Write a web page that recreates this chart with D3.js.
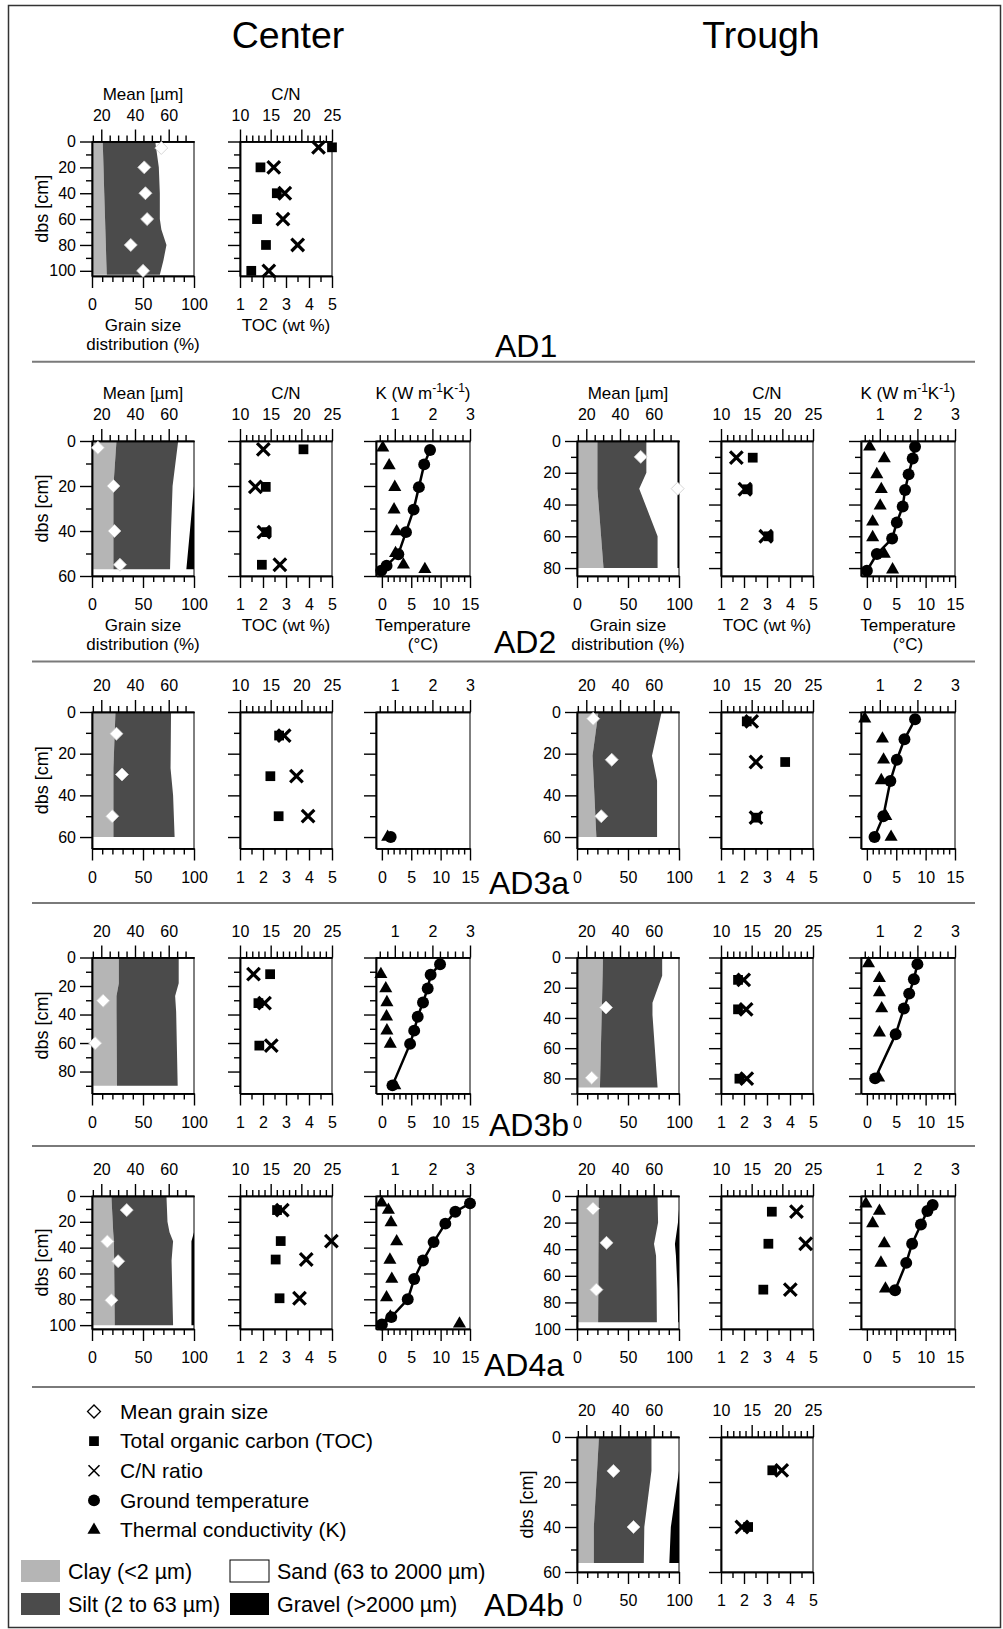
<!DOCTYPE html>
<html>
<head>
<meta charset="utf-8">
<script src="https://cdn.jsdelivr.net/npm/d3@7"></script>
<style>
  body { margin: 0; background: #fff; }
  svg text { font-family: "Liberation Sans", Arial, Helvetica, sans-serif; }
</style>
</head>
<body>
<svg id="fig" width="1003" height="1629"></svg>
<script>
// ---------- categories ----------
const profiles = ["AD1", "AD2", "AD3a", "AD3b", "AD4a", "AD4b"];
const settings = ["Center", "Trough"];

// ---------- tick values ----------
const grainMajor = [0, 50, 100], grainMinor = [10, 20, 30, 40, 60, 70, 80, 90];
const meanMajor = [20, 40, 60], meanMinor = [15, 25, 30, 35, 45, 50, 55, 65, 70];
const cnMajor = [10, 15, 20, 25], cnMinor = [11, 12, 13, 14, 16, 17, 18, 19, 21, 22, 23, 24];
const tocMajor = [1, 2, 3, 4, 5], tocMinor = [1.5, 2.5, 3.5, 4.5];
const kMajor = [1, 2, 3], kMinor = [0.6, 0.8, 1.2, 1.4, 1.6, 1.8, 2.2, 2.4, 2.6, 2.8];
const tempMajor = [0, 5, 10, 15], tempMinor = [1, 2, 3, 4, 6, 7, 8, 9, 11, 12, 13, 14];

// axis domains
const grainDomain = [0, 100];      // grain size distribution (%)
const meanDomain = [14.5, 75];     // mean grain size (µm)
const cnDomain = [10, 25];         // C/N
const tocDomain = [1, 5];          // TOC (wt %)
const kDomain = [0.5, 3];          // K (W m-1 K-1)
const tempDomain = [-1, 15];       // temperature (°C)

// ---------- grain size profiles: depth (cm), clay %, silt %, sand %, gravel % ----------
const ad1cGrain = [[0,10.5,51.5,38,0],[20,11.3,54.2,34.5,0],[40,12,54.5,33.5,0],[60,12.8,53.7,33.5,0],[68,13.1,54.9,32,0],[80,13.6,59.4,27,0],[92,14,56,30,0],[103,14.5,52,33.5,0]];
const ad2cGrain = [[0,24,60.5,15.5,0],[20,21,58,21,0],[40,21,56.5,18.5,4],[57,21,55.5,16,7.5]];
const ad2tGrain = [[0,20,48,30.5,1.5],[20,20,48,30.5,1.5],[30,20,41,37.5,1.5],[60,23.6,55.4,19.5,1.5],[80,26,53,19.5,1.5]];
const ad3acGrain = [[0,23,54.5,22.5,0],[27,21,56,23,0],[40,21,58.5,20.5,0],[60,21,60,19,0]];
const ad3atGrain = [[0,21,62,17,0],[21,15.2,58.3,26.5,0],[33,16.4,62.1,21.5,0],[60,19,59.5,21.5,0]];
const ad3bcGrain = [[0,26.3,58.7,15,0],[18,26.3,58.7,15,0],[27,24,57.5,18.5,0],[38,24,58.5,17.5,0],[90,24.5,59.5,16,0]];
const ad3btGrain = [[0,25.5,58,16.5,0],[12,25.1,58.4,16.5,0],[30,24.5,49.5,26,0],[38,24.2,49.8,26,0],[86,22.5,56.5,21,0]];
const ad4acGrain = [[0,19,54,27,0],[20,20.3,53.7,26,0],[28,20.8,55.2,24,0],[35,21.5,58,18,2.5],[50,21.7,56.3,19.5,2.5],[100,22.3,57.2,18,2.5]];
const ad4atGrain = [[0,21.3,57.7,21,0],[10,21.2,58,20.8,0],[20,21.2,58.3,19.5,1],[36,21.1,54.4,20.5,4],[45,21,56.5,19.5,3],[70,20.9,57.1,20.5,1.5],[95,20.7,57.6,20.9,0.8]];
const ad4btGrain = [[0,21.5,51.5,27,0],[15,19.7,53.3,27,0],[40,16.5,49.5,26,8],[56,16.5,49,25,9.5]];

// ---------- mean grain size: depth (cm), µm ----------
const ad1cMean = [[5,55.6],[20,45.5],[40,46.2],[60,47.2],[80,37.5],[100,44.8]];
const ad2cMean = [[3,18],[20,27.2],[40,27.8],[55,31.1]];
const ad2tMean = [[10,52.3],[30,74.2]];
const ad3acMean = [[10.4,29],[30,32.3],[50,26.5]];
const ad3atMean = [[3.2,24.1],[22.9,35.1],[50,28.9]];
const ad3bcMean = [[30.3,21.1],[60.1,16.4]];
const ad3btMean = [[33.1,31.7],[79.6,23.2]];
const ad4acMean = [[10.9,35.1],[35.2,23.6],[50.5,30],[80.7,26]];
const ad4atMean = [[9.5,24],[35.2,32],[70.4,26]];
const ad4btMean = [[15.1,36.1],[40,48]];

// ---------- total organic carbon: depth (cm), wt % ----------
const ad1cToc = [[4.5,5.0],[20,1.89],[40,2.6],[60,1.74],[80,2.13],[100,1.49]];
const ad2cToc = [[3.7,3.76],[20.4,2.12],[40.5,2.16],[55,1.95]];
const ad2tToc = [[10.5,2.38],[30.4,2.16],[60,3.07]];
const ad3acToc = [[11.3,2.7],[30.8,2.32],[50,2.68]];
const ad3atToc = [[4.5,2.12],[24,3.79],[50.7,2.53]];
const ad3bcToc = [[11.7,2.31],[32,1.8],[61.8,1.84]];
const ad3btToc = [[14.8,1.74],[34.3,1.74],[80.2,1.8]];
const ad4acToc = [[10.9,2.61],[34.9,2.77],[49.2,2.55],[79.2,2.72]];
const ad4atToc = [[11.8,3.21],[35.9,3.06],[70.4,2.84]];
const ad4btToc = [[14.8,3.23],[40,2.18]];

// ---------- C/N ratio: depth (cm), C/N ----------
const ad1cCn = [[4.5,22.8],[20,15.5],[40,17.3],[60,17.0],[80,19.4],[100,14.7]];
const ad2cCn = [[3.7,13.8],[20.4,12.5],[40.5,13.9],[55,16.5]];
const ad2tCn = [[10.5,12.5],[30.4,13.9],[60,17.3]];
const ad3acCn = [[11.3,17.2],[30.8,19.2],[50,21.1]];
const ad3atCn = [[4.5,15.0],[24,15.7],[50.7,15.7]];
const ad3bcCn = [[11.7,12.2],[32,14.0],[61.8,15.1]];
const ad3btCn = [[14.8,13.7],[34.3,14.1],[80.2,14.2]];
const ad4acCn = [[10.9,16.9],[34.9,24.9],[49.2,20.8],[79.2,19.7]];
const ad4atCn = [[11.8,22.3],[35.9,23.8],[70.4,21.3]];
const ad4btCn = [[14.8,19.9],[40,13.4]];

// ---------- ground temperature: depth (cm), °C ----------
const ad2cTemp = [[4,8.2],[10.4,7.2],[20.5,6.3],[30.5,5.4],[40.5,4.1],[50.3,2.8],[55.4,0.8],[57.6,-0.1]];
const ad2tTemp = [[3.6,8.2],[11,7.8],[21,7.1],[30.8,6.5],[41.3,6.1],[51.3,5.1],[61.4,4.3],[71.2,1.7],[81.7,0.0]];
const ad3acTemp = [[60,1.5]];
const ad3atTemp = [[3.5,8.2],[13.1,6.4],[22.9,5.1],[33.1,4.0],[50,2.8],[60,1.3]];
const ad3bcTemp = [[4.7,9.9],[12.1,8.3],[21.7,7.8],[31.5,7.0],[41.5,6.1],[51.3,5.5],[60.6,4.8],[89.7,1.8]];
const ad3btTemp = [[4.4,8.6],[14.4,8.0],[23.9,7.2],[33.8,6.3],[50.8,4.9],[80,1.4]];
const ad4acTemp = [[5.7,15.0],[12.2,12.5],[21.4,10.8],[35.7,8.8],[50,7.0],[64.3,5.5],[80,4.4],[93.8,1.6],[99.5,0.0]];
const ad4atTemp = [[6.8,11.2],[11.3,10.3],[21.4,9.2],[35.9,7.7],[50.3,6.7],[70.9,4.8]];

// ---------- thermal conductivity: depth (cm), K ----------
const ad2cK = [[3,0.68],[10.9,0.85],[20.5,1.0],[30.5,0.98],[40.2,1.05],[49.9,1.02],[55,1.23],[57,1.8]];
const ad2tK = [[3.6,0.73],[11,1.12],[21,0.92],[30.4,1.04],[40.8,1.01],[50.9,0.81],[60.7,0.81],[71.2,1.12],[81,1.34]];
const ad3acK = [[60,0.81]];
const ad3atK = [[3.2,0.6],[12.8,1.07],[22.9,1.1],[32.8,1.04],[50,1.16],[60,1.3]];
const ad3bcK = [[11.7,0.63],[21.7,0.76],[31.5,0.79],[41.5,0.78],[51.3,0.79],[60.6,0.88],[89.7,1.0]];
const ad3btK = [[4,0.7],[13.7,0.99],[23.2,0.99],[33.8,1.05],[49.7,0.99],[79.6,0.97]];
const ad4acK = [[5.2,0.65],[10.9,0.83],[20.6,0.9],[35.2,1.05],[49.5,0.87],[64.3,0.92],[78.6,0.78],[93.5,0.88],[99,2.72]];
const ad4atK = [[5.8,0.63],[11.3,0.99],[20.6,0.81],[35.7,1.12],[50.3,1.03],[69.8,1.15]];

// ---------- legend ----------
const markerLabels = ["Mean grain size", "Total organic carbon (TOC)", "C/N ratio", "Ground temperature", "Thermal conductivity (K)"];
const fractionLabels = ["Clay (<2 µm)", "Sand (63 to 2000 µm)", "Silt (2 to 63 µm)", "Gravel (>2000 µm)"];
const fractionKeys = ["clay", "sand", "silt", "gravel"];
const fractionColor = { clay: "#b5b5b5", silt: "#4b4b4b", sand: "#ffffff", gravel: "#000000" };

// ---------- panels (profile, setting, depth axis maximum, series) ----------
const panels = [
  { profile: "AD1",  setting: "Center", yMax: 104, grain: ad1cGrain,  mean: ad1cMean,  toc: ad1cToc,  cn: ad1cCn,  temp: null,      k: null,    titles: true, depthLabel: true },
  { profile: "AD2",  setting: "Center", yMax: 60,  grain: ad2cGrain,  mean: ad2cMean,  toc: ad2cToc,  cn: ad2cCn,  temp: ad2cTemp,  k: ad2cK,  titles: true, depthLabel: true },
  { profile: "AD2",  setting: "Trough", yMax: 85,  grain: ad2tGrain,  mean: ad2tMean,  toc: ad2tToc,  cn: ad2tCn,  temp: ad2tTemp,  k: ad2tK,  titles: true, depthLabel: false },
  { profile: "AD3a", setting: "Center", yMax: 65.5,grain: ad3acGrain, mean: ad3acMean, toc: ad3acToc, cn: ad3acCn, temp: ad3acTemp, k: ad3acK, titles: false, depthLabel: true },
  { profile: "AD3a", setting: "Trough", yMax: 65.5,grain: ad3atGrain, mean: ad3atMean, toc: ad3atToc, cn: ad3atCn, temp: ad3atTemp, k: ad3atK, titles: false, depthLabel: false },
  { profile: "AD3b", setting: "Center", yMax: 95.4,grain: ad3bcGrain, mean: ad3bcMean, toc: ad3bcToc, cn: ad3bcCn, temp: ad3bcTemp, k: ad3bcK, titles: false, depthLabel: true },
  { profile: "AD3b", setting: "Trough", yMax: 90,  grain: ad3btGrain, mean: ad3btMean, toc: ad3btToc, cn: ad3btCn, temp: ad3btTemp, k: ad3btK, titles: false, depthLabel: false },
  { profile: "AD4a", setting: "Center", yMax: 103, grain: ad4acGrain, mean: ad4acMean, toc: ad4acToc, cn: ad4acCn, temp: ad4acTemp, k: ad4acK, titles: false, depthLabel: true },
  { profile: "AD4a", setting: "Trough", yMax: 100, grain: ad4atGrain, mean: ad4atMean, toc: ad4atToc, cn: ad4atCn, temp: ad4atTemp, k: ad4atK, titles: false, depthLabel: false },
  { profile: "AD4b", setting: "Trough", yMax: 60,  grain: ad4btGrain, mean: ad4btMean, toc: ad4btToc, cn: ad4btCn, temp: null,      k: null,    titles: false, depthLabel: true }
];

// ---------- layout ----------
const FONT = '"Liberation Sans", Arial, Helvetica, sans-serif';
const MAJOR = 12, MINOR = 6;
const rowBox = {
  AD1:  { top: 141.5, bottom: 276,    label: [495, 357] },
  AD2:  { top: 441,   bottom: 576,    label: [494, 653] },
  AD3a: { top: 712,   bottom: 848.5,  label: [489, 894] },
  AD3b: { top: 957.5, bottom: 1093.5, label: [489, 1136] },
  AD4a: { top: 1196,  bottom: 1329,   label: [484, 1376] },
  AD4b: { top: 1437,  bottom: 1572,   label: [484, 1616] }
};
const colBox = {
  Center: { grain: [92, 194], cn: [240, 332], k: [376, 470], head: 288 },
  Trough: { grain: [577, 679], cn: [721, 813], k: [861, 955], head: 761 }
};
const separators = [361.7, 661.5, 903, 1146, 1387];

const svg = d3.select("#fig");

// outer frame
svg.append("rect").attr("x", 8.5).attr("y", 5.5).attr("width", 992).attr("height", 1622)
  .attr("fill", "none").attr("stroke", "#333").attr("stroke-width", 1.5);

// column headers
settings.forEach(s => {
  svg.append("text").attr("x", colBox[s].head).attr("y", 48).attr("text-anchor", "middle")
    .attr("font-size", 37.5).text(s);
});

// separators between profiles
separators.forEach(yv => {
  svg.append("line").attr("x1", 32).attr("x2", 975).attr("y1", yv).attr("y2", yv)
    .attr("stroke", "#7a7a7a").attr("stroke-width", 2);
});

// profile labels
profiles.forEach(p => {
  svg.append("text").attr("x", rowBox[p].label[0]).attr("y", rowBox[p].label[1])
    .attr("font-size", 32).text(p);
});

// symbol generators
const sym = {
  diamond: d3.symbol().type(d3.symbolSquare).size(84),
  square: d3.symbol().type(d3.symbolSquare).size(95),
  times: d3.symbol().type(d3.symbolTimes).size(105),
  circle: d3.symbol().type(d3.symbolCircle).size(112),
  triangle: d3.symbol().type(d3.symbolTriangle).size(74)
};

function styleAxis(sel) {
  sel.attr("font-family", FONT).attr("font-size", 16).attr("color", "#000");
  sel.selectAll("path.domain").attr("stroke-width", 1.5);
  sel.selectAll(".tick line").attr("stroke-width", 1.4);
  return sel;
}

// one axis made of long labelled ticks and short unlabelled ticks
function addAxis(g, orient, scale, major, minor, pos, pad, labelled) {
  const make = { top: d3.axisTop, bottom: d3.axisBottom, left: d3.axisLeft }[orient];
  const tr = orient === "left" ? `translate(${pos},0)` : `translate(0,${pos})`;
  styleAxis(g.append("g").attr("transform", tr)
    .call(make(scale).tickValues(minor).tickSize(MINOR).tickSizeOuter(0).tickFormat("")));
  styleAxis(g.append("g").attr("transform", tr)
    .call(make(scale).tickValues(major).tickSize(MAJOR).tickSizeOuter(0).tickPadding(pad)
      .tickFormat(labelled ? d3.format("") : "")));
}

function frame(g, xr, y) {
  g.append("rect").attr("x", xr[0]).attr("y", y.range()[0])
    .attr("width", xr[1] - xr[0]).attr("height", y.range()[1] - y.range()[0])
    .attr("fill", "none").attr("stroke", "#000").attr("stroke-width", 1);
}

function depthAxis(g, y, x0, yMax, labelled) {
  const major = d3.range(0, yMax + 0.01, 20);
  const minor = d3.range(10, yMax + 0.01, 20);
  addAxis(g, "left", y, major, minor, x0, 4, labelled);
}

function title(g, x, yv, txt, size) {
  return g.append("text").attr("x", x).attr("y", yv).attr("text-anchor", "middle")
    .attr("font-size", size || 17).text(txt);
}

function drawPanel(p) {
  const R = rowBox[p.profile], C = colBox[p.setting];
  const g = svg.append("g");
  const y = d3.scaleLinear().domain([0, p.yMax]).range([R.top, R.bottom]);

  // ---- grain size panel ----
  const x = d3.scaleLinear().domain(grainDomain).range(C.grain);
  const xm = d3.scaleLinear().domain(meanDomain).range(C.grain);
  const area = d3.area().y(d => y(d[0]));
  g.append("path").datum(p.grain).attr("fill", fractionColor.clay)
    .attr("d", area.x0(() => x(0)).x1(d => x(d[1])));
  g.append("path").datum(p.grain).attr("fill", fractionColor.silt)
    .attr("d", area.x0(d => x(d[1])).x1(d => x(d[1] + d[2])));
  g.append("path").datum(p.grain).attr("fill", fractionColor.gravel)
    .attr("d", area.x0(d => x(100 - d[4])).x1(() => x(100)));
  frame(g, C.grain, y);
  addAxis(g, "top", xm, meanMajor, meanMinor, R.top, 9, true);
  addAxis(g, "bottom", x, grainMajor, grainMinor, R.bottom, 11, true);
  depthAxis(g, y, C.grain[0], p.yMax, true);
  g.selectAll(null).data(p.mean).join("path")
    .attr("d", sym.diamond())
    .attr("transform", d => `translate(${xm(d[1])},${y(d[0])}) rotate(45)`)
    .attr("fill", "#fff").attr("stroke", "#cfcfcf").attr("stroke-width", 0.8);

  // ---- TOC and C/N panel ----
  const xc = d3.scaleLinear().domain(cnDomain).range(C.cn);
  const xo = d3.scaleLinear().domain(tocDomain).range(C.cn);
  frame(g, C.cn, y);
  addAxis(g, "top", xc, cnMajor, cnMinor, R.top, 9, true);
  addAxis(g, "bottom", xo, tocMajor, tocMinor, R.bottom, 11, true);
  depthAxis(g, y, C.cn[0], p.yMax, false);
  g.selectAll(null).data(p.toc).join("path")
    .attr("d", sym.square())
    .attr("transform", d => `translate(${xo(d[1])},${y(d[0])})`).attr("fill", "#000");
  g.selectAll(null).data(p.cn).join("path")
    .attr("d", sym.times())
    .attr("transform", d => `translate(${xc(d[1])},${y(d[0])})`)
    .attr("fill", "none").attr("stroke", "#000").attr("stroke-width", 3.2);

  // ---- temperature and thermal conductivity panel ----
  if (p.temp) {
    const xk = d3.scaleLinear().domain(kDomain).range(C.k);
    const xt = d3.scaleLinear().domain(tempDomain).range(C.k);
    frame(g, C.k, y);
    addAxis(g, "top", xk, kMajor, kMinor, R.top, 9, true);
    addAxis(g, "bottom", xt, tempMajor, tempMinor, R.bottom, 11, true);
    depthAxis(g, y, C.k[0], p.yMax, false);
    g.append("path").datum(p.temp)
      .attr("d", d3.line().x(d => xt(d[1])).y(d => y(d[0])))
      .attr("fill", "none").attr("stroke", "#000").attr("stroke-width", 2.5);
    g.selectAll(null).data(p.temp).join("path")
      .attr("d", sym.circle())
      .attr("transform", d => `translate(${xt(d[1])},${y(d[0])})`).attr("fill", "#000");
    g.selectAll(null).data(p.k).join("path")
      .attr("d", sym.triangle())
      .attr("transform", d => `translate(${xk(d[1])},${y(d[0])})`).attr("fill", "#000");

    if (p.titles) {
      const kt = g.append("text").attr("x", (C.k[0] + C.k[1]) / 2).attr("y", R.top - 42)
        .attr("text-anchor", "middle").attr("font-size", 17);
      kt.append("tspan").text("K (W m");
      kt.append("tspan").attr("dy", -7).attr("font-size", 12).text("-1");
      kt.append("tspan").attr("dy", 7).text("K");
      kt.append("tspan").attr("dy", -7).attr("font-size", 12).text("-1");
      kt.append("tspan").attr("dy", 7).text(")");
      title(g, (C.k[0] + C.k[1]) / 2, R.bottom + 55, "Temperature");
      title(g, (C.k[0] + C.k[1]) / 2, R.bottom + 74, "(°C)");
    }
  }

  if (p.titles) {
    title(g, (C.grain[0] + C.grain[1]) / 2, R.top - 42, "Mean [µm]");
    title(g, (C.cn[0] + C.cn[1]) / 2, R.top - 42, "C/N");
    title(g, (C.grain[0] + C.grain[1]) / 2, R.bottom + 55, "Grain size");
    title(g, (C.grain[0] + C.grain[1]) / 2, R.bottom + 74, "distribution (%)");
    title(g, (C.cn[0] + C.cn[1]) / 2, R.bottom + 55, "TOC (wt %)");
  }
  if (p.depthLabel) {
    const cx = C.grain[0] - 50, cy = (R.top + R.bottom) / 2;
    g.append("text").attr("transform", `translate(${cx},${cy}) rotate(-90)`)
      .attr("text-anchor", "middle").attr("dy", "0.35em").attr("font-size", 18).text("dbs [cm]");
  }
}

panels.forEach(drawPanel);

// ---------- legend ----------
const lg = svg.append("g");
const legendY = d3.scalePoint().domain(markerLabels).range([1411.5, 1530]);
const markerSyms = [
  { s: sym.diamond, rot: 45, fill: "#fff", stroke: "#000", sw: 1.3 },
  { s: sym.square, rot: 0, fill: "#000", stroke: "none", sw: 0 },
  { s: d3.symbol().type(d3.symbolTimes).size(80), rot: 0, fill: "none", stroke: "#000", sw: 1.6 },
  { s: sym.circle, rot: 0, fill: "#000", stroke: "none", sw: 0 },
  { s: sym.triangle, rot: 0, fill: "#000", stroke: "none", sw: 0 }
];
markerLabels.forEach((lab, i) => {
  const m = markerSyms[i];
  lg.append("path").attr("d", m.s())
    .attr("transform", `translate(94,${legendY(lab)}) rotate(${m.rot})`)
    .attr("fill", m.fill).attr("stroke", m.stroke).attr("stroke-width", m.sw);
  lg.append("text").attr("x", 120).attr("y", legendY(lab)).attr("dy", "0.35em")
    .attr("font-size", 21).text(lab);
});
const swX = [21, 230], swY = [1560, 1593];
fractionLabels.forEach((lab, i) => {
  const key = fractionKeys[i];
  const sx = swX[i % 2], sy = swY[Math.floor(i / 2)];
  lg.append("rect").attr("x", sx).attr("y", sy).attr("width", 39).attr("height", 22)
    .attr("fill", fractionColor[key])
    .attr("stroke", key === "sand" ? "#000" : "none").attr("stroke-width", 1);
  lg.append("text").attr("x", sx + 47).attr("y", sy + 11).attr("dy", "0.35em")
    .attr("font-size", 21.5).text(lab);
});
</script>
</body>
</html>
